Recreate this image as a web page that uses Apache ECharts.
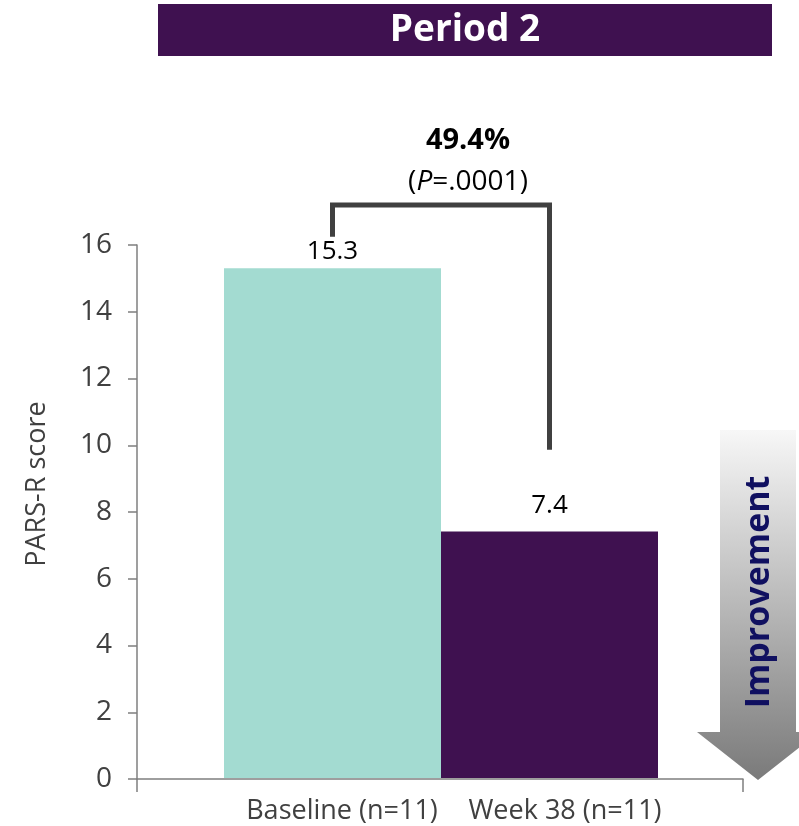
<!DOCTYPE html>
<html>
<head>
<meta charset="utf-8">
<script src="https://cdn.jsdelivr.net/npm/echarts@6/dist/echarts.min.js"></script>
<style>
html,body{margin:0;padding:0;background:#fff;}
#chart{width:799px;height:826px;}
</style>
</head>
<body>
<div id="chart"></div>
<script>
// ---- data ----
var categories = ['Baseline (n=11)', 'Week 38 (n=11)'];
var scores = [15.3, 7.4];
var barColors = ['#a3dbd1', '#3f1150'];
var yMin = 0, yMax = 16, yInterval = 2;
var bracketLeftY = 16.25;   // bottom of left leg
var bracketTopY = 17.2;     // horizontal line level
var bracketRightY = 9.85;   // bottom of right leg
var changeText = '49.4%';
var pValueText = '.0001';
var panelTitle = 'Period 2';
var arrowText = 'Improvement';
var yAxisName = 'PARS-R score';

var FONT = '"Open Sans", "Noto Sans", sans-serif';
var chart = echarts.init(document.getElementById('chart'));

var option = {
  animation: false,
  backgroundColor: '#ffffff',
  grid: [
    {left: 137, right: 56, top: 245, bottom: 47},
    {left: 224, right: 141, top: 245, bottom: 47}
  ],
  xAxis: [
    {
      gridIndex: 0, type: 'category', data: [''], boundaryGap: true,
      axisLine: {show: true, lineStyle: {color: '#7f7f7f', width: 1.5}},
      axisTick: {show: true, length: 13, lineStyle: {color: '#7f7f7f', width: 1.5}},
      axisLabel: {show: false}
    },
    {
      gridIndex: 1, type: 'category', data: categories, boundaryGap: true,
      axisLine: {show: false}, axisTick: {show: false},
      axisLabel: {
        show: true, interval: 0, hideOverlap: false, margin: 18, color: '#404040',
        fontFamily: FONT, fontSize: 27, lineHeight: 30,
        formatter: function (v, i) { return '{s' + i + '|' + v + '}'; },
        rich: {
          s0: {fontFamily: FONT, fontSize: 27, color: '#404040', padding: [0, 0, 0, 19]},
          s1: {fontFamily: FONT, fontSize: 27, color: '#404040', padding: [0, 0, 0, 31]}
        }
      }
    }
  ],
  yAxis: [
    {
      gridIndex: 0, type: 'value', min: yMin, max: yMax, interval: yInterval,
      name: yAxisName, nameLocation: 'middle', nameGap: 86, nameRotate: 90,
      nameTextStyle: {fontFamily: FONT, fontSize: 27, color: '#404040', padding: [0, 0, 0, 56]},
      axisLine: {show: true, lineStyle: {color: '#7f7f7f', width: 1.5}},
      axisTick: {show: true, length: 9, inside: false, lineStyle: {color: '#7f7f7f', width: 1.5}},
      axisLabel: {margin: 25, color: '#404040', fontFamily: FONT, fontSize: 28},
      splitLine: {show: false}
    },
    {
      gridIndex: 1, type: 'value', min: yMin, max: yMax, interval: yInterval, show: false
    }
  ],
  series: [
    {
      type: 'bar', xAxisIndex: 1, yAxisIndex: 1,
      barCategoryGap: '0%', barWidth: '100%',
      data: scores.map(function (v, i) {
        return {
          value: v,
          itemStyle: {color: barColors[i]},
          label: {distance: i === 0 ? 4 : 13}
        };
      }),
      label: {
        show: true, position: 'top', color: '#000000',
        fontFamily: FONT, fontSize: 26
      }
    },
    {
      type: 'line', xAxisIndex: 1, yAxisIndex: 1, clip: false,
      symbol: 'none', silent: true,
      lineStyle: {color: '#404040', width: 5, join: 'miter'},
      data: [[0, bracketLeftY], [0, bracketTopY], [1, bracketTopY], [1, bracketRightY]]
    }
  ],
  graphic: [
    {
      type: 'rect', shape: {x: 158, y: 4, width: 614, height: 52},
      style: {fill: '#3f1150'}
    },
    {
      type: 'text', x: 465, y: 30,
      style: {text: panelTitle, fill: '#ffffff', font: 'bold 37px ' + FONT, align: 'center', verticalAlign: 'middle'}
    },
    {
      type: 'text', x: 468, y: 141,
      style: {text: changeText, fill: '#000000', font: 'bold 29px ' + FONT, align: 'center', verticalAlign: 'middle'}
    },
    {
      type: 'text', x: 468, y: 182,
      style: {
        text: '{n|(}{i|P}{n|=' + pValueText + ')}',
        align: 'center', verticalAlign: 'middle',
        rich: {
          n: {fontFamily: FONT, fontSize: 28, fill: '#000000'},
          i: {fontFamily: FONT, fontSize: 28, fontStyle: 'italic', fill: '#000000'}
        }
      }
    },
    {
      type: 'polygon',
      shape: {points: [[720, 430], [796, 430], [796, 732], [819, 732], [758, 780], [697, 732], [720, 732]]},
      style: {
        fill: new echarts.graphic.LinearGradient(0, 0, 0, 1, [
          {offset: 0, color: '#f7f7f7'},
          {offset: 1, color: '#7a7a7a'}
        ])
      }
    },
    {
      type: 'text', x: 759, y: 592, rotation: Math.PI / 2,
      style: {text: arrowText, fill: '#101060', font: 'bold 34px ' + FONT, align: 'center', verticalAlign: 'middle'}
    }
  ]
};
chart.setOption(option);
</script>
</body>
</html>
